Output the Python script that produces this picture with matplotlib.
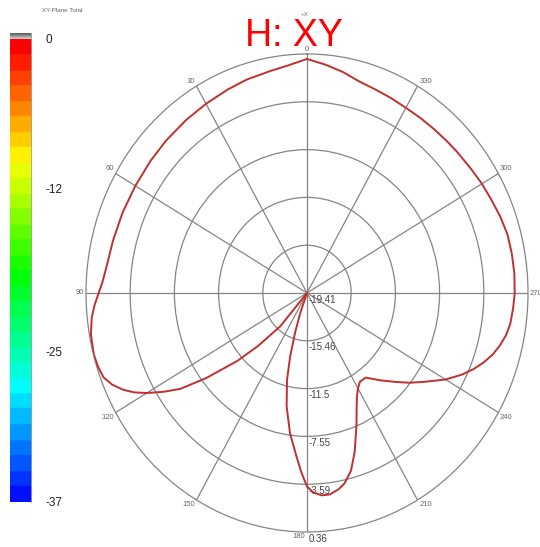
import numpy as np
import matplotlib
matplotlib.use("Agg")
import matplotlib.pyplot as plt
from matplotlib.colors import ListedColormap, Normalize

plt.rcParams['font.family'] = ['Liberation Sans', 'DejaVu Sans']

# XY-plane total gain pattern (angle in deg, ccw from +X at top; gain in dB)
theta_deg = [0, 5, 10, 17, 23, 30, 37, 45, 52, 60, 68, 76, 83, 87, 90,
             93, 96, 100, 105, 108, 111, 113.5, 116, 118, 120, 122.5, 125,
             128, 132, 135, 139, 144, 158, 160, 162, 164, 166, 169, 172.5,
             176, 178, 180, 182, 184.5, 187, 190, 192, 195, 198, 202, 205,
             207.5, 210, 213, 217, 222, 227, 231, 235, 240, 244, 247, 250,
             253, 256, 259, 262, 266, 270, 275, 280, 285, 290, 295, 300,
             305, 311, 315, 320, 325, 330, 335, 340, 345, 350, 355, 360]
gain_db = [-0.05, -0.5, -0.75, -0.95, -1.15, -1.34, -1.47, -1.58, -1.65,
           -1.68, -1.62, -1.52, -1.35, -1.1, -0.78,
           -0.38, -0.05, 0.22, 0.33, 0.25, 0.08, -0.4, -1.14, -1.9, -2.86,
           -4.2, -5.59, -8.0, -11.0, -13.2, -15.75, -19.41, -19.41, -17.63,
           -15.93, -13.95, -12.02, -9.86, -7.73,
           -5.87, -4.6, -3.4, -2.9, -2.62, -2.62, -2.95, -3.3, -4.2, -5.6,
           -7.6, -8.9,
           -9.74, -10.3, -10.69, -10.65, -9.70, -8.63, -7.61, -6.6, -5.1,
           -4.0, -3.26, -2.6,
           -2.03, -1.6, -1.26, -1.05, -0.93, -0.83, -0.79, -0.80, -0.83,
           -1.0, -1.2, -1.34,
           -1.5, -1.62, -1.68, -1.72, -1.73, -1.72, -1.62, -1.5, -1.3,
           -0.85, -0.45, -0.05]

r_ticks = [-19.41, -15.46, -11.5, -7.55, -3.59, 0.36]
r_tick_labels = ['-19.41', '-15.46', '-11.5', '-7.55', '-3.59', '0.36']
angle_ticks = list(range(0, 360, 30))

cbar_ticks = [0, -12, -25, -37]
cbar_min, cbar_max = -37, 0

W, H = 540, 547
fig = plt.figure(figsize=(W / 100, H / 100), dpi=100)
fig.patch.set_facecolor('white')

# polar plot (stretched box, so the rings come out slightly elliptical)
cx, cy, rx, ry = 307, 293, 221, 239
ax = fig.add_axes([(cx - rx) / W, (H - cy - ry) / H, 2 * rx / W, 2 * ry / H],
                  projection='polar')
ax.set_aspect('auto')
ax.set_theta_zero_location('N')
ax.set_theta_direction(1)
ax.set_ylim(r_ticks[0], r_ticks[-1])
ax.set_rgrids(r_ticks[1:-1], labels=[''] * (len(r_ticks) - 2))
ax.set_thetagrids(angle_ticks, labels=[''] * len(angle_ticks))
ax.grid(True, color='#858585', linewidth=0.9)
ax.spines['polar'].set_color('#858585')
ax.spines['polar'].set_linewidth(0.9)
ax.tick_params(length=0)

th = np.deg2rad(theta_deg)
ax.plot(th, gain_db, color='#c0302f', linewidth=1.4, zorder=5,
        solid_joinstyle='round')

# angle labels just outside the outer ring
for a in angle_ticks:
    x = -np.sin(np.deg2rad(a))
    y = np.cos(np.deg2rad(a))
    ha = 'center' if abs(x) < 0.1 else ('right' if x < 0 else 'left')
    va = 'bottom' if y > 0.1 else ('top' if y < -0.1 else 'center')
    if a == 180:
        ha = 'right'
    ax.annotate(str(a), xy=(np.deg2rad(a), r_ticks[-1]),
                xytext=(1.2 * np.sign(x) if ha != 'center' else 0,
                        1.0 if va == 'bottom' else (-1 if va == 'top' else 0)),
                textcoords='offset points', ha=ha, va=va,
                fontsize=5.5, color='#666666', annotation_clip=False)

# radial level labels along the 180 spoke
for r, lbl in zip(r_ticks, r_tick_labels):
    ax.annotate(lbl, xy=(np.pi, r), xytext=(1, -1.2),
                textcoords='offset points', ha='left', va='top',
                fontsize=7, color='#444444', zorder=3,
                annotation_clip=False)

fig.text(305 / W, 1 - 15 / H, '+X', fontsize=4.5, color='#777777',
         ha='center', va='center')
fig.text(294 / W, 1 - 46 / H, 'H: XY', fontsize=27, color='#ff0000',
         ha='center', va='baseline')

# colour scale on the left
cax = fig.add_axes([10 / W, (H - 503) / H, 22 / W, 470 / H])
cmap = ListedColormap(plt.get_cmap('hsv')(np.linspace(0.667, 0.0, 30)))
grad = np.linspace(cbar_min, cbar_max, 256).reshape(-1, 1)
cax.imshow(grad, cmap=cmap, norm=Normalize(cbar_min, cbar_max),
           extent=[0, 1, cbar_min, cbar_max], origin='lower', aspect='auto')
top = np.linspace(0, 1, 16).reshape(-1, 1)
cax.imshow(top, cmap='Greys', vmin=-0.6, vmax=1.6,
           extent=[0, 1, cbar_max, cbar_max + 0.45], origin='lower',
           aspect='auto')
cax.axvline(0.98, color='#a0a0a0', linewidth=1.2)
cax.set_xlim(0, 1)
cax.set_ylim(cbar_min - 0.1, cbar_max + 0.45)
cax.set_xticks([])
cax.yaxis.tick_right()
cax.set_yticks(cbar_ticks)
cax.set_yticklabels([str(t) for t in cbar_ticks])
cax.tick_params(axis='y', length=0, pad=10, labelsize=8.5, labelcolor='#222222')
for s in cax.spines.values():
    s.set_visible(False)

fig.text(42 / W, 1 - 10 / H, 'XY-Plane Total', fontsize=4.5, color='#666666',
         ha='left', va='center')

fig.savefig('out.png', dpi=100, facecolor='white')
